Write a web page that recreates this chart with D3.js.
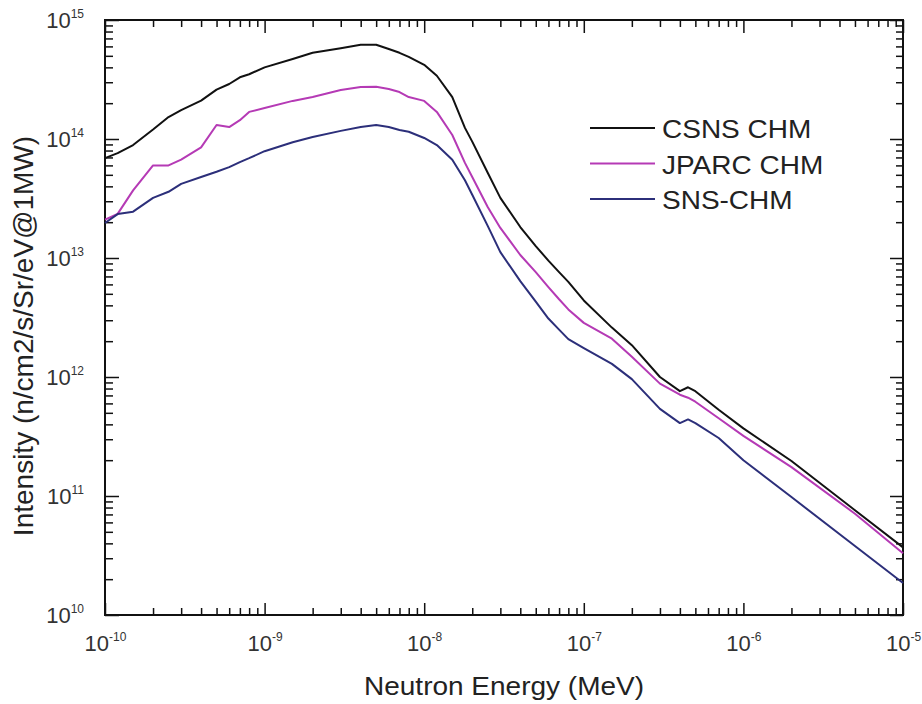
<!DOCTYPE html>
<html lang="en">

<head>
    <meta charset="UTF-8">
    <title>Neutron spectra</title>
    <style>
        body {
            margin: 0;
            background: #fff;
        }

        svg {
            font-family: Arial, "Liberation Sans", sans-serif;
        }
    </style>
</head>

<body>

    <div id="chart"></div>

    <script src="https://cdn.jsdelivr.net/npm/d3@7"></script>
    <script>

        // Neutron energy (MeV), shared by all three spectra
        var energy = [1e-10, 1.2e-10, 1.5e-10, 2e-10, 2.5e-10, 3e-10, 4e-10, 5e-10, 6e-10, 7e-10, 8e-10,
            1e-9, 1.5e-9, 2e-9, 3e-9, 4e-9, 5e-9, 6e-9, 7e-9, 8e-9,
            1e-8, 1.2e-8, 1.5e-8, 1.8e-8, 2e-8, 2.5e-8, 3e-8, 4e-8, 5e-8, 6e-8, 7e-8, 8e-8,
            1e-7, 1.5e-7, 2e-7, 3e-7, 4e-7, 4.5e-7, 5e-7, 7e-7,
            1e-6, 2e-6, 5e-6, 1e-5];

        // Intensity (n/cm2/s/Sr/eV@1MW)
        var csns = [6.9e13, 7.6e13, 8.9e13, 1.2e14, 1.53e14, 1.75e14, 2.1e14, 2.6e14, 2.9e14, 3.3e14, 3.5e14,
            4.0e14, 4.7e14, 5.3e14, 5.8e14, 6.2e14, 6.2e14, 5.7e14, 5.3e14, 4.9e14,
            4.2e14, 3.4e14, 2.25e14, 1.24e14, 9.5e13, 5.2e13, 3.2e13, 1.82e13, 1.26e13, 9.5e12, 7.6e12, 6.3e12,
            4.4e12, 2.6e12, 1.85e12, 1.0e12, 7.6e11, 8.2e11, 7.6e11, 5.3e11,
            3.7e11, 1.97e11, 7.6e10, 3.7e10];

        var jparc = [2.1e13, 2.35e13, 3.7e13, 6.0e13, 6.0e13, 6.7e13, 8.5e13, 1.31e14, 1.26e14, 1.44e14, 1.69e14,
            1.82e14, 2.09e14, 2.25e14, 2.58e14, 2.74e14, 2.75e14, 2.63e14, 2.48e14, 2.25e14,
            2.09e14, 1.69e14, 1.08e14, 6.3e13, 4.8e13, 2.68e13, 1.79e13, 1.06e13, 7.6e12, 5.7e12, 4.5e12, 3.7e12,
            2.85e12, 2.1e12, 1.48e12, 8.8e11, 7.1e11, 6.7e11, 6.2e11, 4.5e11,
            3.2e11, 1.75e11, 7.1e10, 3.3e10];

        var sns = [1.97e13, 2.34e13, 2.45e13, 3.2e13, 3.6e13, 4.2e13, 4.8e13, 5.3e13, 5.8e13, 6.4e13, 6.9e13,
            7.9e13, 9.4e13, 1.04e14, 1.17e14, 1.26e14, 1.31e14, 1.26e14, 1.19e14, 1.15e14,
            1.02e14, 8.9e13, 6.7e13, 4.5e13, 3.4e13, 1.86e13, 1.12e13, 6.4e12, 4.3e12, 3.1e12, 2.5e12, 2.08e12,
            1.75e12, 1.29e12, 9.6e11, 5.4e11, 4.1e11, 4.4e11, 4.1e11, 3.07e11,
            2.0e11, 9.8e10, 3.8e10, 1.86e10];

        var seriesNames = ["CSNS CHM", "JPARC CHM", "SNS-CHM"];
        var seriesColors = ["#111111", "#b53ab5", "#2c2f7a"];

        // tick labels (exponents of ten)
        var xExponents = [-10, -9, -8, -7, -6, -5];
        var yExponents = [10, 11, 12, 13, 14, 15];

        draw();

        function draw() {
            var W = 922, H = 704;
            var pl = 105, pr = 903, pt = 20, pb = 615;  // plot box edges

            var svg = d3.select("#chart").append("svg")
                .attr("width", W)
                .attr("height", H);

            var x = d3.scaleLog().domain([1e-10, 1e-5]).range([pl, pr]);
            var y = d3.scaleLog().domain([1e10, 1e15]).range([pb, pt]);

            var xMajor = xExponents.map(function (e) { return Math.pow(10, e); });
            var yMajor = yExponents.map(function (e) { return Math.pow(10, e); });

            // minor ticks 2..9 in every decade
            function minors(majors) {
                var out = [];
                for (var i = 0; i < majors.length - 1; i++) {
                    for (var k = 2; k <= 9; k++) out.push(majors[i] * k);
                }
                return out;
            }
            var xMinor = minors(xMajor);
            var yMinor = minors(yMajor);

            // superscript labels: "10" + exponent
            function powerLabel(sel, exps) {
                sel.text("").each(function (d, i) {
                    var t = d3.select(this);
                    t.append("tspan").text("10");
                    t.append("tspan")
                        .attr("dy", "-10")
                        .attr("font-size", 12)
                        .text(exps[i]);
                });
            }

            function noFmt() { return ""; }

            // bottom axis
            var gx = svg.append("g").attr("transform", "translate(0," + pb + ")")
                .call(d3.axisBottom(x).tickValues(xMajor).tickSizeInner(-12).tickSizeOuter(0).tickFormat(noFmt));
            gx.select(".domain").remove();
            gx.selectAll(".tick text")
                .attr("y", 36).attr("dy", null)
                .attr("font-size", 22).attr("fill", "#333")
                .call(powerLabel, xExponents);
            var gxm = svg.append("g").attr("transform", "translate(0," + pb + ")")
                .call(d3.axisBottom(x).tickValues(xMinor).tickSizeInner(-7).tickSizeOuter(0).tickFormat(noFmt));
            gxm.select(".domain").remove();

            // top axis, ticks only
            var gt = svg.append("g").attr("transform", "translate(0," + pt + ")")
                .call(d3.axisTop(x).tickValues(xMajor).tickSizeInner(-13).tickSizeOuter(0).tickFormat(noFmt));
            gt.select(".domain").remove();
            var gtm = svg.append("g").attr("transform", "translate(0," + pt + ")")
                .call(d3.axisTop(x).tickValues(xMinor).tickSizeInner(-7).tickSizeOuter(0).tickFormat(noFmt));
            gtm.select(".domain").remove();

            // left axis
            var gy = svg.append("g").attr("transform", "translate(" + pl + ",0)")
                .call(d3.axisLeft(y).tickValues(yMajor).tickSizeInner(-14).tickSizeOuter(0).tickPadding(21).tickFormat(noFmt));
            gy.select(".domain").remove();
            gy.selectAll(".tick text")
                .attr("dy", "0.36em")
                .attr("font-size", 22).attr("fill", "#333")
                .call(powerLabel, yExponents);
            var gym = svg.append("g").attr("transform", "translate(" + pl + ",0)")
                .call(d3.axisLeft(y).tickValues(yMinor).tickSizeInner(-8).tickSizeOuter(0).tickFormat(noFmt));
            gym.select(".domain").remove();

            // right axis, ticks only
            var gr = svg.append("g").attr("transform", "translate(" + pr + ",0)")
                .call(d3.axisRight(y).tickValues(yMajor).tickSizeInner(-13).tickSizeOuter(0).tickFormat(noFmt));
            gr.select(".domain").remove();
            var grm = svg.append("g").attr("transform", "translate(" + pr + ",0)")
                .call(d3.axisRight(y).tickValues(yMinor).tickSizeInner(-7).tickSizeOuter(0).tickFormat(noFmt));
            grm.select(".domain").remove();

            svg.selectAll(".tick line").attr("stroke", "#111").attr("stroke-width", 1.5);

            // frame
            svg.append("rect")
                .attr("x", pl).attr("y", pt)
                .attr("width", pr - pl).attr("height", pb - pt)
                .attr("fill", "none").attr("stroke", "#111").attr("stroke-width", 2);

            // curves
            var allSeries = [csns, jparc, sns];
            var line = d3.line()
                .x(function (d) { return x(d[0]); })
                .y(function (d) { return y(d[1]); });

            allSeries.forEach(function (vals, i) {
                var pts = energy.map(function (e, j) { return [e, vals[j]]; });
                svg.append("path")
                    .datum(pts)
                    .attr("d", line)
                    .attr("fill", "none")
                    .attr("stroke", seriesColors[i])
                    .attr("stroke-width", 2)
                    .attr("stroke-linejoin", "round");
            });

            // legend
            var legend = svg.append("g");
            seriesNames.forEach(function (name, i) {
                var ly = 128 + i * 35.5;
                legend.append("line")
                    .attr("x1", 590).attr("x2", 655)
                    .attr("y1", ly).attr("y2", ly)
                    .attr("stroke", seriesColors[i]).attr("stroke-width", 2);
                legend.append("text")
                    .attr("transform", "translate(662," + (ly + 10) + ") scale(1.12,1)")
                    .attr("font-size", 25)
                    .attr("fill", "#222")
                    .text(name);
            });

            // axis titles
            svg.append("text")
                .attr("transform", "translate(" + ((pl + pr) / 2) + ",695) scale(1.12,1)")
                .attr("text-anchor", "middle")
                .attr("font-size", 25)
                .attr("fill", "#222")
                .text("Neutron Energy (MeV)");

            svg.append("text")
                .attr("transform", "translate(33,336) rotate(-90)")
                .attr("text-anchor", "middle")
                .attr("font-size", 28)
                .attr("fill", "#222")
                .text("Intensity (n/cm2/s/Sr/eV@1MW)");
        }

    </script>

</body>

</html>
